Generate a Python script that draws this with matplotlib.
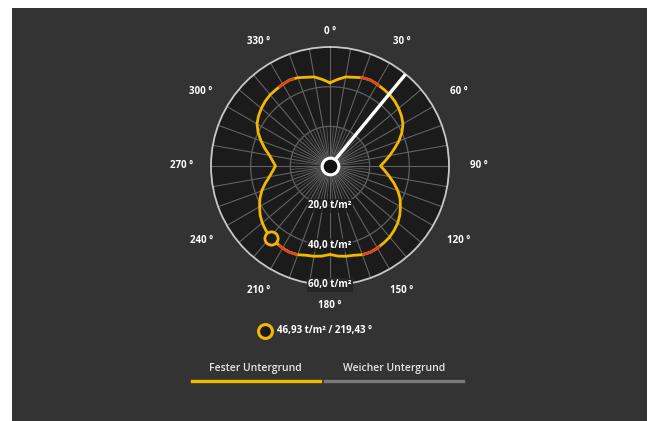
import numpy as np
import matplotlib
matplotlib.use("Agg")
import matplotlib.pyplot as plt
from matplotlib.patches import Rectangle

plt.rcParams['font.family'] = ['Open Sans', 'DejaVu Sans']

# capacity curve (t/m²) read every 5 degrees, clockwise from north
angles = np.arange(0, 360, 5)
capacity = [42.0, 43.8, 45.6, 46.3, 47.4, 47.9, 47.6, 47.2, 46.9, 46.2,
            45.2, 44.0, 42.5, 40.0, 37.0, 33.6, 30.6, 27.8, 25.5, 27.8,
            30.4, 33.4, 36.4, 39.0, 41.0, 43.0, 44.6, 45.8, 46.8, 47.3,
            47.8, 48.0, 47.6, 46.6, 46.2, 45.6, 44.6, 45.6, 46.2, 46.6,
            47.6, 48.0, 47.8, 47.3, 46.9, 45.8, 44.6, 43.0, 41.0, 39.0,
            36.6, 33.8, 31.0, 29.0, 27.5, 29.0, 31.0, 34.0, 37.0, 40.0,
            42.5, 44.0, 45.2, 46.2, 46.9, 47.2, 47.6, 47.9, 47.4, 46.3,
            45.6, 43.8]
red_ranges = [(19, 32), (148, 160), (200, 213), (327, 338)]

rings = [20, 40, 60]
ring_labels = ["20,0 t/m²", "40,0 t/m²", "60,0 t/m²"]
angle_ticks = list(range(0, 360, 30))

sel_value = 46.93
sel_angle = 219.43
boom_angle = sel_angle - 180

tabs = ["Fester Untergrund", "Weicher Untergrund"]

W, H = 648, 421
fig = plt.figure(figsize=(W / 100, H / 100), dpi=100, facecolor='white')
fig.patches.append(Rectangle((12 / W, 0), (647 - 12) / W, (H - 8) / H,
                             transform=fig.transFigure, facecolor='#333333',
                             edgecolor='none', zorder=-5))

cx, cy, R = 330, 166, 119
ax = fig.add_axes([(cx - R) / W, (H - cy - R) / H, 2 * R / W, 2 * R / H],
                  projection='polar')
ax.set_zorder(2)
ax.set_theta_zero_location('N')
ax.set_theta_direction(-1)
ax.set_ylim(0, 60)
ax.set_facecolor('#1b1b1b')
ax.grid(False)
ax.set_xticks([]); ax.set_yticks([])
ax.spines['polar'].set_color('#c8c8c8')
ax.spines['polar'].set_linewidth(1.3)

# spokes and rings
for a in range(0, 360, 10):
    t = np.deg2rad(a)
    ax.plot([t, t], [3, 60], color='#626262', lw=0.8, zorder=1)
for a in range(5, 360, 10):
    t = np.deg2rad(a)
    ax.plot([t, t], [3, 20], color='#555555', lw=0.6, zorder=1)
circ = np.linspace(0, 2 * np.pi, 361)
for r in rings[:-1]:
    ax.plot(circ, np.full_like(circ, r), color='#606060', lw=0.9, zorder=1)

# capacity curve
th = np.deg2rad(np.append(angles, 360))
rr = np.append(capacity, capacity[0])
ax.plot(th, rr, color='#f2b700', lw=2.0, zorder=3)
for a0, a1 in red_ranges:
    seg = np.arange(a0, a1 + 0.5, 1.0)
    ax.plot(np.deg2rad(seg), np.interp(seg, np.append(angles, 360), rr),
            color='#e2471a', lw=2.0, zorder=4, solid_capstyle='butt')

# boom needle and centre
tb = np.deg2rad(boom_angle)
ax.plot([tb, tb], [4, 60], color='white', lw=2.4, zorder=5, solid_capstyle='butt')
ax.plot([0], [0], 'o', ms=12, mfc='#111111', mec='white', mew=2.2, zorder=6)

# selected point
ax.plot([np.deg2rad(sel_angle)], [sel_value], 'o', ms=9.5, mfc='#1b1b1b',
        mec='#f2b700', mew=2.0, zorder=6)

# ring labels
for r, lab in zip(rings, ring_labels):
    ax.text(np.pi, r, lab, color='white', fontsize=7, fontweight='bold',
            ha='center', va='center', zorder=7, clip_on=False,
            bbox=dict(facecolor='#262626' if r == 60 else '#1b1b1b',
                      edgecolor='none', pad=1.0, alpha=1.0 if r == 60 else 0.7))

# angle labels
for a in angle_ticks:
    t = np.deg2rad(a)
    rl = 68 + 7 * min(1.0, 1.2 * abs(np.sin(t))) + (2.5 if a == 180 else 0)
    ax.text(t, rl, f"{a} °", color='white', fontsize=7, fontweight='bold',
            ha='center', va='center', clip_on=False)

# readout
fig.add_artist(plt.Line2D([265 / W], [1 - 331 / H], marker='o', ms=10,
                          mfc='#1b1b1b', mec='#f2b700', mew=2.2,
                          transform=fig.transFigure))
fig.text(277 / W, 1 - 331 / H, f"{sel_value:.2f} t/m² / {sel_angle:.2f} °".replace('.', ','),
         color='white', fontsize=7, fontweight='bold', ha='left', va='center')

# tabs
fig.text(255 / W, 1 - 368 / H, tabs[0], color='#e6e6e6', fontsize=7.5,
         fontweight='semibold', ha='center', va='center')
fig.text(394 / W, 1 - 368 / H, tabs[1], color='#e6e6e6', fontsize=7.5,
         fontweight='semibold', ha='center', va='center')
fig.add_artist(plt.Line2D([192 / W, 320 / W], [1 - 381 / H] * 2, color='#f2b700',
                          lw=2.4, transform=fig.transFigure))
fig.add_artist(plt.Line2D([325 / W, 463 / W], [1 - 381 / H] * 2, color='#7a7a7a',
                          lw=2.4, transform=fig.transFigure))

fig.savefig("out.png", dpi=100, facecolor=fig.get_facecolor())
